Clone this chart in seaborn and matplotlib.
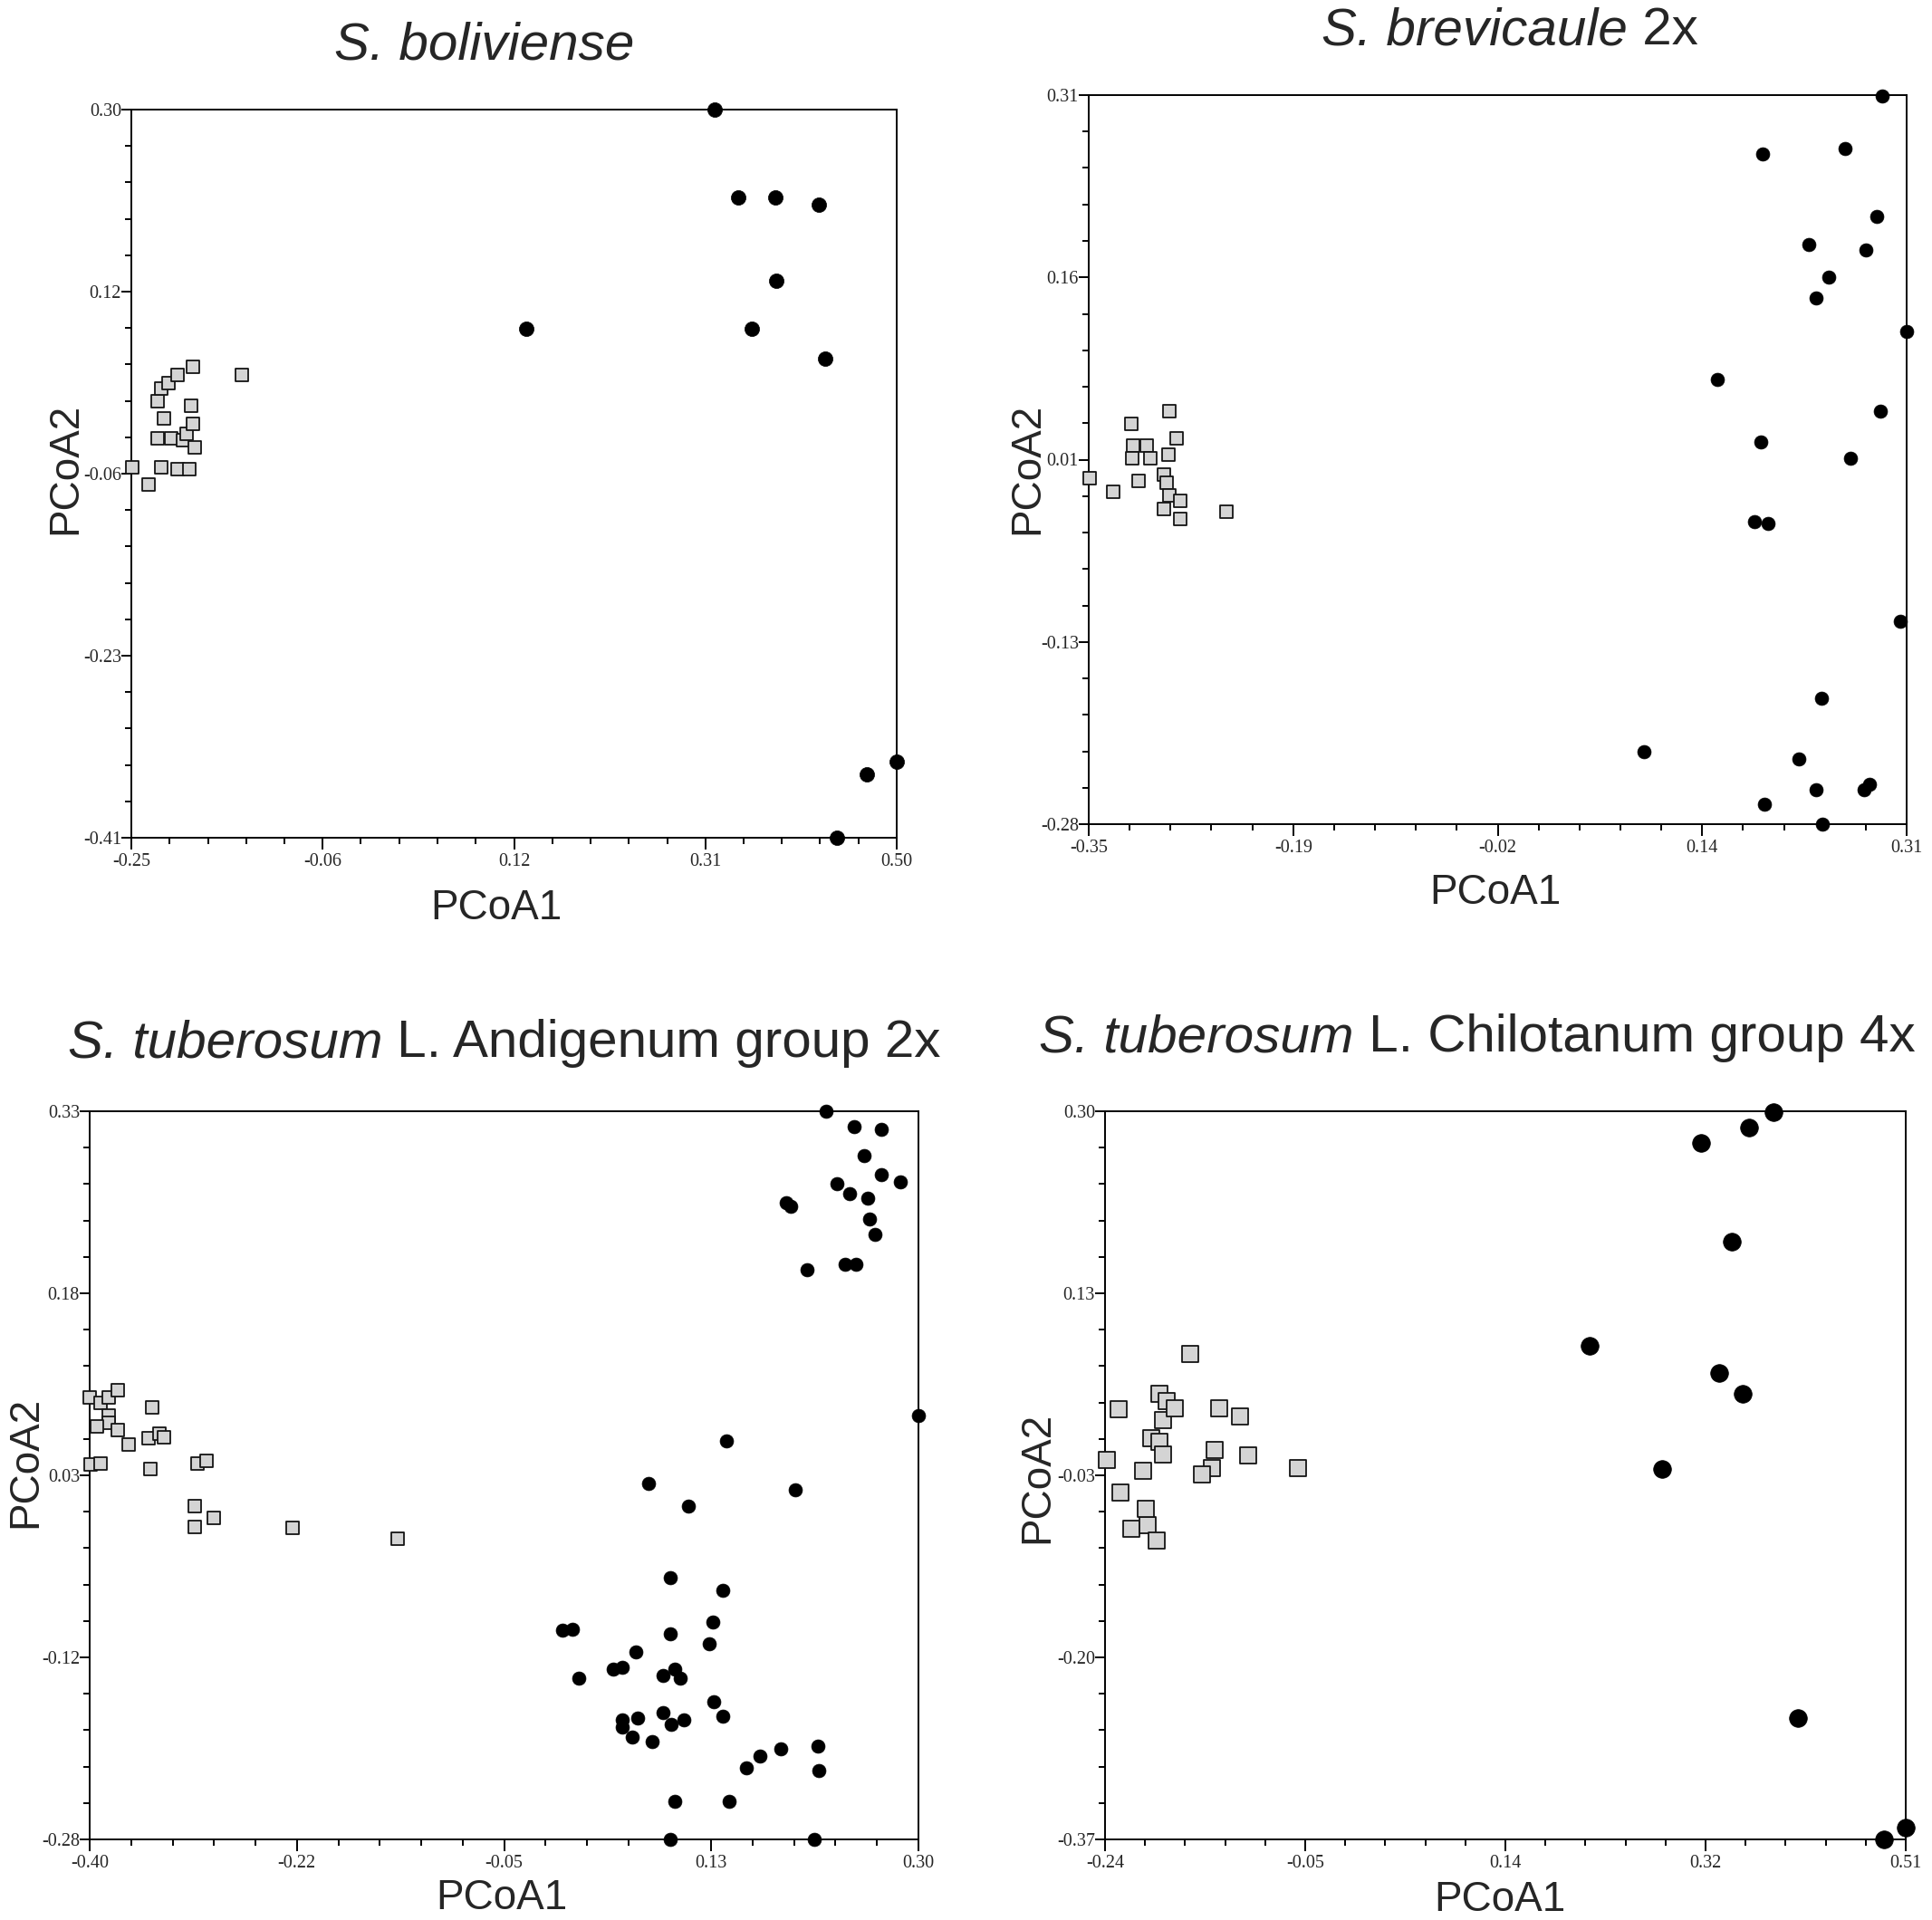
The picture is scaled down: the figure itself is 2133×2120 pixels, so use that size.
import numpy as np
import pandas as pd
import matplotlib
matplotlib.use('Agg')
import matplotlib.pyplot as plt
import seaborn as sns
from matplotlib.ticker import AutoMinorLocator

sns.set_style('ticks')
plt.rcParams['font.family'] = ['Liberation Sans', 'DejaVu Sans']

# ---- data (PCoA1, PCoA2) ----
# S. boliviense
bol_sq_x = [-0.249, -0.233, -0.221, -0.205, -0.193, -0.224, -0.211, -0.199, -0.196, -0.188,
            -0.190, -0.191, -0.218, -0.224, -0.221, -0.214, -0.205, -0.190, -0.142]
bol_sq_y = [-0.049, -0.066, -0.049, -0.051, -0.051, -0.021, -0.021, -0.022, -0.016, -0.029,
            -0.006, 0.011, -0.001, 0.016, 0.028, 0.033, 0.041, 0.049, 0.041]
bol_ci_x = [0.322, 0.345, 0.381, 0.424, 0.382, 0.358, 0.137, 0.430, 0.500, 0.471, 0.441]
bol_ci_y = [0.300, 0.214, 0.214, 0.207, 0.133, 0.086, 0.086, 0.057, -0.336, -0.348, -0.410]

# S. brevicaule 2x
bre_sq_x = [-0.349, -0.330, -0.310, -0.316, -0.314, -0.315, -0.303, -0.300, -0.285, -0.279,
            -0.286, -0.289, -0.287, -0.285, -0.289, -0.276, -0.276, -0.239]
bre_sq_y = [0.000, -0.011, -0.002, 0.044, 0.026, 0.016, 0.026, 0.016, 0.054, 0.032,
            0.019, 0.003, -0.004, -0.014, -0.025, -0.018, -0.033, -0.027]
bre_ci_x = [0.290, 0.194, 0.260, 0.286, 0.231, 0.277, 0.247, 0.237, 0.310, 0.157, 0.289, 0.192,
            0.265, 0.187, 0.198, 0.305, 0.241, 0.098, 0.223, 0.237, 0.276, 0.280, 0.195, 0.242]
bre_ci_y = [0.309, 0.262, 0.267, 0.212, 0.189, 0.185, 0.163, 0.146, 0.119, 0.080, 0.054, 0.029,
            0.016, -0.035, -0.037, -0.116, -0.178, -0.221, -0.227, -0.252, -0.252, -0.248, -0.264, -0.280]

# S. tuberosum L. Andigenum group 2x
and_sq_x = [-0.400, -0.391, -0.384, -0.376, -0.384, -0.384, -0.394, -0.376, -0.367, -0.347, -0.350, -0.341,
            -0.337, -0.399, -0.391, -0.349, -0.309, -0.301, -0.311, -0.295, -0.311, -0.229, -0.140]
and_sq_y = [0.090, 0.086, 0.090, 0.096, 0.075, 0.069, 0.066, 0.063, 0.051, 0.082, 0.056, 0.060,
            0.057, 0.034, 0.035, 0.030, 0.035, 0.037, -0.001, -0.011, -0.018, -0.019, -0.028]
and_ci_x = [0.222, 0.246, 0.269, 0.254, 0.269, 0.285, 0.231, 0.242, 0.257, 0.188,
            0.192, 0.259, 0.263, 0.238, 0.247, 0.206, 0.300, 0.138, 0.072, 0.196,
            0.106, 0.090, 0.135, 0.126, -0.001, 0.008, 0.090, 0.123, 0.061, 0.042,
            0.050, 0.013, 0.084, 0.094, 0.099, 0.127, 0.135, 0.084, 0.102, 0.091,
            0.050, 0.063, 0.050, 0.058, 0.075, 0.184, 0.215, 0.166, 0.155, 0.216,
            0.094, 0.140, 0.090, 0.212]
and_ci_y = [0.330, 0.317, 0.315, 0.293, 0.277, 0.271, 0.269, 0.261, 0.257, 0.253,
            0.250, 0.240, 0.227, 0.202, 0.202, 0.197, 0.075, 0.054, 0.018, 0.013,
            -0.001, -0.061, -0.071, -0.098, -0.105, -0.104, -0.108, -0.116, -0.123, -0.137,
            -0.136, -0.145, -0.143, -0.137, -0.145, -0.165, -0.177, -0.174, -0.180, -0.184,
            -0.180, -0.178, -0.186, -0.194, -0.198, -0.204, -0.202, -0.210, -0.220, -0.222,
            -0.248, -0.248, -0.280, -0.280]

# S. tuberosum L. Chilotanum group 4x
chi_sq_x = [-0.238, -0.227, -0.226, -0.215, -0.200, -0.202, -0.192, -0.204, -0.197, -0.189, -0.186, -0.186,
            -0.189, -0.182, -0.175, -0.160, -0.133, -0.114, -0.137, -0.140, -0.149, -0.106, -0.059]
chi_sq_y = [-0.021, 0.026, -0.051, -0.084, -0.081, -0.066, -0.095, -0.031, -0.001, -0.004, -0.016, 0.016,
            0.040, 0.033, 0.027, 0.077, 0.027, 0.019, -0.012, -0.028, -0.034, -0.017, -0.028]
chi_ci_x = [0.386, 0.363, 0.318, 0.347, 0.214, 0.335, 0.357, 0.282, 0.409, 0.510, 0.490]
chi_ci_y = [0.299, 0.285, 0.271, 0.180, 0.084, 0.059, 0.040, -0.029, -0.258, -0.359, -0.370]

# axis ranges and tick labels
bol_xlim, bol_ylim = [-0.25, 0.50], [-0.41, 0.30]
bol_xticklabels = ['-0.25', '-0.06', '0.12', '0.31', '0.50']
bol_yticklabels = ['-0.41', '-0.23', '-0.06', '0.12', '0.30']
bre_xlim, bre_ylim = [-0.35, 0.31], [-0.28, 0.31]
bre_xticklabels = ['-0.35', '-0.19', '-0.02', '0.14', '0.31']
bre_yticklabels = ['-0.28', '-0.13', '0.01', '0.16', '0.31']
and_xlim, and_ylim = [-0.40, 0.30], [-0.28, 0.33]
and_xticklabels = ['-0.40', '-0.22', '-0.05', '0.13', '0.30']
and_yticklabels = ['-0.28', '-0.12', '0.03', '0.18', '0.33']
chi_xlim, chi_ylim = [-0.24, 0.51], [-0.37, 0.30]
chi_xticklabels = ['-0.24', '-0.05', '0.14', '0.32', '0.51']
chi_yticklabels = ['-0.37', '-0.20', '-0.03', '0.13', '0.30']

# titles: (italic part, upright part)
titles = [('S. boliviense', ''),
          ('S. brevicaule', ' 2x'),
          ('S. tuberosum', ' L. Andigenum group 2x'),
          ('S. tuberosum', ' L. Chilotanum group 4x')]

W, H = 2133, 2120
fig = plt.figure(figsize=(W / 100, H / 100), dpi=100)
renderer = fig.canvas.get_renderer()

panels = [
    # data, limits, labels, axes box in pixels (l, t, r, b), title pos, xlabel pos, ylabel pos, marker sizes
    dict(sq=(bol_sq_x, bol_sq_y), ci=(bol_ci_x, bol_ci_y), xlim=bol_xlim, ylim=bol_ylim,
         xtl=bol_xticklabels, ytl=bol_yticklabels, box=(145, 121, 990, 925),
         tpos=(535, 65), xpos=(548, 1015), ypos=(84, 517), s_sq=115, s_ci=135),
    dict(sq=(bre_sq_x, bre_sq_y), ci=(bre_ci_x, bre_ci_y), xlim=bre_xlim, ylim=bre_ylim,
         xtl=bre_xticklabels, ytl=bre_yticklabels, box=(1202, 105, 2105, 910),
         tpos=(1667, 49), xpos=(1651, 998), ypos=(1146, 517), s_sq=92, s_ci=115),
    dict(sq=(and_sq_x, and_sq_y), ci=(and_ci_x, and_ci_y), xlim=and_xlim, ylim=and_ylim,
         xtl=and_xticklabels, ytl=and_yticklabels, box=(99, 1227, 1014, 2031),
         tpos=(557, 1167), xpos=(554, 2108), ypos=(40, 1614), s_sq=98, s_ci=115),
    dict(sq=(chi_sq_x, chi_sq_y), ci=(chi_ci_x, chi_ci_y), xlim=chi_xlim, ylim=chi_ylim,
         xtl=chi_xticklabels, ytl=chi_yticklabels, box=(1220, 1227, 2104, 2031),
         tpos=(1631, 1161), xpos=(1656, 2110), ypos=(1157, 1631), s_sq=158, s_ci=200),
]

tick_font = dict(fontfamily='Liberation Serif', fontsize=14.5)

for p, (t_it, t_rm) in zip(panels, titles):
    l, t, r, b = p['box']
    ax = fig.add_axes([l / W, 1 - b / H, (r - l) / W, (b - t) / H])

    sq = pd.DataFrame({'PCoA1': p['sq'][0], 'PCoA2': p['sq'][1]})
    ci = pd.DataFrame({'PCoA1': p['ci'][0], 'PCoA2': p['ci'][1]})
    sns.scatterplot(data=sq, x='PCoA1', y='PCoA2', marker='s', color='#d4d4d4',
                    edgecolor='#151515', linewidth=1.3, s=p['s_sq'], clip_on=False, ax=ax, zorder=3)
    sns.scatterplot(data=ci, x='PCoA1', y='PCoA2', marker='o', color='black',
                    edgecolor='black', linewidth=0.5, s=p['s_ci'], clip_on=False, ax=ax, zorder=3)

    ax.set_xlim(p['xlim'])
    ax.set_ylim(p['ylim'])
    ax.set_xticks(np.linspace(p['xlim'][0], p['xlim'][1], 5))
    ax.set_yticks(np.linspace(p['ylim'][0], p['ylim'][1], 5))
    ax.set_xticklabels(p['xtl'], **tick_font)
    ax.set_yticklabels(p['ytl'], **tick_font)
    ax.xaxis.set_minor_locator(AutoMinorLocator(5))
    ax.yaxis.set_minor_locator(AutoMinorLocator(5))
    ax.tick_params(axis='x', which='major', direction='out', length=9.5, width=1.4, pad=3, color='black')
    ax.tick_params(axis='y', which='major', direction='out', length=8, width=1.4, pad=0, color='black')
    ax.tick_params(which='minor', direction='out', length=5, width=1.4, color='black')
    for sp in ax.spines.values():
        sp.set_linewidth(1.4)
        sp.set_color('black')
    ax.set_xlabel('')
    ax.set_ylabel('')

    # title: italic species name followed by upright text, centred as a whole
    ty = 1 - p['tpos'][1] / H
    txt_it = fig.text(0, ty, t_it, fontsize=42, fontstyle='italic', ha='left', va='baseline')
    txt_rm = fig.text(0, ty, t_rm, fontsize=42, ha='left', va='baseline')
    w_it = txt_it.get_window_extent(renderer).width if t_it else 0
    w_rm = txt_rm.get_window_extent(renderer).width if t_rm else 0
    x0 = p['tpos'][0] - (w_it + w_rm) / 2
    txt_it.set_x(x0 / W)
    txt_rm.set_x((x0 + w_it) / W)

    fig.text(p['xpos'][0] / W, 1 - p['xpos'][1] / H, 'PCoA1', fontsize=33,
             ha='center', va='baseline')
    fig.text(p['ypos'][0] / W, 1 - p['ypos'][1] / H, 'PCoA2', fontsize=33,
             rotation=90, rotation_mode='anchor', ha='center', va='baseline')

fig.savefig('out.png', dpi=100, facecolor='white')
